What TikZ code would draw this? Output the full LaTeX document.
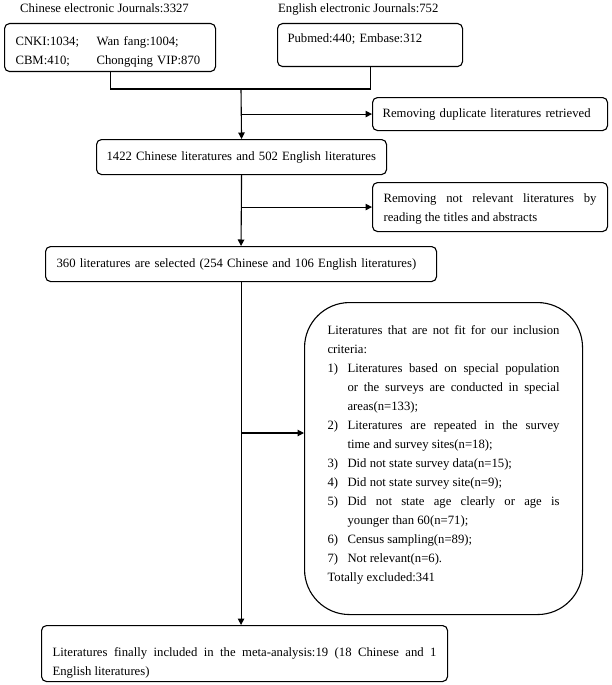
\documentclass[tikz,border=0pt]{standalone}
\usepackage{fontspec}
\setmainfont{Liberation Serif}
\usetikzlibrary{arrows.meta,positioning}

\tikzset{
  box/.style={draw, line width=1.1pt, rounded corners=5pt, anchor=north west,
    inner ysep=3pt, align=left, font=\fontsize{12.7}{19}\selectfont},
  jbox/.style={box, align=justify},
  arr/.style={-{Triangle[length=6.5pt,width=6.5pt]}, line width=1.1pt},
  link/.style={line width=1.1pt},
  title/.style={anchor=base west, inner sep=0pt, font=\fontsize{12.7}{19}\selectfont}
}
\newcommand{\critem}[2]{\par\noindent\hangindent=20pt\hangafter=1\makebox[20pt][l]{#1}#2}

\begin{document}
\begin{tikzpicture}[x=1pt,y=-1pt]
\useasboundingbox (0,0) rectangle (611,685);

% sources
\node[title] (cntitle) at (20,12.5) {Chinese electronic Journals:3327};
\node[title] (entitle) at (278,12.5) {English electronic Journals:752};

\node[box, text width=189pt, inner xsep=11pt, minimum height=48pt, text height=18pt] (cnki) at (4,23)
  {\makebox[81pt][l]{CNKI:1034;}Wan fang:1004;\\\makebox[81pt][l]{CBM:410;}Chongqing VIP:870};
\node[box, text width=165pt, inner xsep=10pt, minimum height=43pt, text depth=13pt] (pubmed) at (277,23)
  {Pubmed:440; Embase:312};

% screening
\node[box, text width=215pt, inner xsep=10pt, minimum height=33pt] (dup) at (372,97)
  {Removing duplicate literatures retrieved};
\node[box, text width=270pt, inner xsep=10pt, minimum height=35pt] (total) at (96,139)
  {1422 Chinese literatures and 502 English literatures};
\node[jbox, text width=213pt, inner xsep=11pt, minimum height=49pt, text height=12pt] (relev) at (372,182)
  {Removing not relevant literatures by\linebreak reading the titles and abstracts};
\node[box, text width=369pt, inner xsep=11pt, minimum height=35pt] (sel) at (45,246)
  {360 literatures are selected (254 Chinese and 106 English literatures)};

% exclusions
\node[jbox, rounded corners=45pt, text width=232pt, inner xsep=23pt, minimum height=312pt, text depth=257pt] (excl) at (304,302)
  {Literatures that are not fit for our inclusion\linebreak criteria:
   \critem{1)}{Literatures based on special population\linebreak or the surveys are conducted in special\linebreak areas(n=133);}
   \critem{2)}{Literatures are repeated in the survey\linebreak time and survey sites(n=18);}
   \critem{3)}{Did not state survey data(n=15);}
   \critem{4)}{Did not state survey site(n=9);}
   \critem{5)}{Did not state age clearly or age is\linebreak younger than 60(n=71);}
   \critem{6)}{Census sampling(n=89);}
   \critem{7)}{Not relevant(n=6).}
   \par\noindent Totally excluded:341};

\node[jbox, text width=384pt, inner xsep=11pt, inner ysep=2pt, minimum height=56pt, text height=28pt] (final) at (41,625)
  {Literatures finally included in the meta-analysis:19 (18 Chinese and 1\linebreak English literatures)};

% connectors
\coordinate (merge) at (241,89);
\coordinate (exin) at (excl.west |- 0,433);
\draw[link] (cnki.south) |- (merge) -| (pubmed.south);
\draw[arr] (merge) -- (total.north);
\draw[arr] (merge |- dup.west) -- (dup.west);
\draw[arr] (total.south) -- (sel.north);
\draw[arr] (total.south |- relev.west) -- (relev.west);
\draw[arr] (sel.south) -- (sel.south |- final.north);
\draw[arr] (sel.south |- exin) -- (exin);
\end{tikzpicture}
\end{document}
